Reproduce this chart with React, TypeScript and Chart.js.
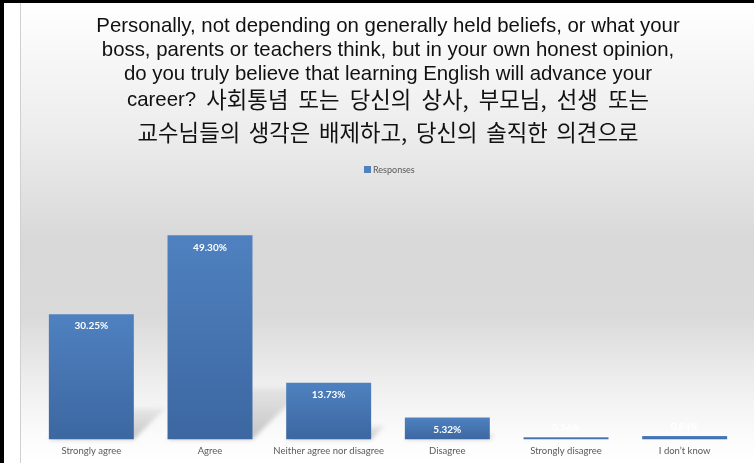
import { useEffect, useRef } from "react";
import { Chart, registerables } from "chart.js";

Chart.register(...registerables);

const categories = [
  "Strongly agree",
  "Agree",
  "Neither agree nor disagree",
  "Disagree",
  "Strongly disagree",
  "I don’t know",
];
const responses = [30.25, 49.3, 13.73, 5.32, 0.56, 0.84];
const valueLabels = ["30.25%", "49.30%", "13.73%", "5.32%", "0.56%", "0.84%"];
const seriesName = "Responses";
const titleLines = [
  "Personally, not depending on generally held beliefs, or what your",
  "boss, parents or teachers think, but in your own honest opinion,",
  "do you truly believe that learning English will advance your",
  "career? 사회통념 또는 당신의 상사, 부모님, 선생 또는",
  "교수님들의 생각은 배제하고, 당신의 솔직한 의견으로",
];
const titleY = [26, 50, 74, 100, 133];
const titleExtraSpace = [0, 0, 0, 4.5, 3];

const W = 754;
const H = 463;

const LATIN_FONT = '20.4px "Liberation Sans", Arial, sans-serif';
const CJK_FONT = '22.3px "Noto Sans CJK KR", sans-serif';

function isCjkChar(ch: string) {
  const code = ch.codePointAt(0) || 0;
  return (
    (code >= 0x1100 && code < 0x1200) ||
    (code >= 0x3130 && code < 0x3190) ||
    (code >= 0xac00 && code < 0xd7b0)
  );
}

function splitRuns(text: string): { t: string; cjk: boolean }[] {
  const runs: { t: string; cjk: boolean }[] = [];
  for (const ch of text) {
    const cjk = isCjkChar(ch);
    const last = runs[runs.length - 1];
    const neutral = ch === " " || ch === ",";
    if (last && (last.cjk === cjk || neutral)) last.t += ch;
    else runs.push({ t: ch, cjk });
  }
  return runs;
}

function drawMixed(ctx: CanvasRenderingContext2D, text: string, cx: number, y: number, extra: number) {
  const words = text.split(" ");
  const items: { t: string; cjk: boolean; w: number; gapAfter: number }[] = [];
  words.forEach((word, wi) => {
    const runs = splitRuns(word);
    runs.forEach((r, ri) => {
      ctx.font = r.cjk ? CJK_FONT : LATIN_FONT;
      const w = ctx.measureText(r.t).width;
      let gap = 0;
      if (ri === runs.length - 1 && wi < words.length - 1) {
        ctx.font = LATIN_FONT;
        gap = ctx.measureText(" ").width + extra;
      }
      items.push({ t: r.t, cjk: r.cjk, w, gapAfter: gap });
    });
  });
  const total = items.reduce((s, it) => s + it.w + it.gapAfter, 0);
  let x = cx - total / 2;
  ctx.textAlign = "left";
  items.forEach((it) => {
    ctx.font = it.cjk ? CJK_FONT : LATIN_FONT;
    ctx.fillText(it.t, x, y);
    x += it.w + it.gapAfter;
  });
}

const backgroundPlugin = {
  id: "bgFrame",
  beforeDraw(chart: any) {
    const ctx = chart.ctx as CanvasRenderingContext2D;
    ctx.save();
    ctx.fillStyle = "#ffffff";
    ctx.fillRect(0, 0, W, H);
    const g = ctx.createLinearGradient(0, 3, 0, H);
    g.addColorStop(0, "#ffffff");
    g.addColorStop(0.3, "#ebebeb");
    g.addColorStop(0.52, "#d8d8d8");
    g.addColorStop(0.68, "#dadada");
    g.addColorStop(0.84, "#f0f0f0");
    g.addColorStop(0.94, "#fbfbfb");
    g.addColorStop(1, "#ffffff");
    ctx.fillStyle = g;
    ctx.fillRect(21, 3, W - 21, H - 3);
    ctx.strokeStyle = "#d0d0d0";
    ctx.lineWidth = 1;
    ctx.beginPath();
    ctx.moveTo(20.5, 3);
    ctx.lineTo(20.5, H);
    ctx.stroke();
    ctx.fillStyle = "#000000";
    ctx.fillRect(0, 0, W, 3);
    ctx.fillRect(0, 0, 4, H);

    // title
    ctx.fillStyle = "#111111";
    ctx.textBaseline = "middle";
    titleLines.forEach((line, i) => {
      drawMixed(ctx, line, 388, titleY[i], titleExtraSpace[i]);
    });

    // legend
    ctx.fillStyle = "#4f81bd";
    ctx.fillRect(364, 166, 7, 7);
    ctx.fillStyle = "#595959";
    ctx.textAlign = "left";
    ctx.font = '9px Lato, "Open Sans", sans-serif';
    ctx.fillText(seriesName, 373, 170);
    ctx.restore();
  },
};

const shadowPlugin = {
  id: "barShadow",
  beforeDatasetsDraw(chart: any) {
    const ctx = chart.ctx as CanvasRenderingContext2D;
    const meta = chart.getDatasetMeta(0);
    ctx.save();
    ctx.filter = "blur(2px)";
    meta.data.forEach((bar: any) => {
      const left = bar.x - bar.width / 2;
      const right = bar.x + bar.width / 2;
      const h = bar.base - bar.y;
      const d = 0.25 * h;
      if (d < 2) return;
      const g = ctx.createLinearGradient(0, bar.base, 0, bar.base - d);
      g.addColorStop(0, "rgba(0,0,0,0.22)");
      g.addColorStop(1, "rgba(0,0,0,0.05)");
      ctx.fillStyle = g;
      ctx.beginPath();
      ctx.moveTo(left, bar.base);
      ctx.lineTo(right, bar.base);
      ctx.lineTo(right + d, bar.base - d);
      ctx.lineTo(left + d, bar.base - d);
      ctx.closePath();
      ctx.fill();
    });
    ctx.restore();
  },
};

const labelPlugin = {
  id: "valueLabels",
  afterDatasetsDraw(chart: any) {
    const ctx = chart.ctx as CanvasRenderingContext2D;
    const meta = chart.getDatasetMeta(0);
    ctx.save();
    ctx.fillStyle = "#ffffff";
    ctx.textAlign = "center";
    ctx.textBaseline = "middle";
    ctx.font = 'bold 10px Lato, "Open Sans", sans-serif';
    meta.data.forEach((bar: any, i: number) => {
      const h = bar.base - bar.y;
      const y = h > 20 ? bar.y + 12 : bar.y - 9;
      ctx.fillText(valueLabels[i], bar.x, y);
    });
    ctx.restore();
  },
};

export default function App() {
  const ref = useRef<HTMLCanvasElement | null>(null);

  useEffect(() => {
    if (!ref.current) return;
    const chart = new Chart(ref.current, {
      type: "bar",
      data: {
        labels: categories,
        datasets: [
          {
            label: seriesName,
            data: responses,
            backgroundColor: (c: any) => {
              const chart = c.chart;
              const ys = chart.scales?.y;
              if (!ys || c.raw === undefined) return "#4a78b4";
              const top = ys.getPixelForValue(c.raw);
              const base = ys.getPixelForValue(0);
              if (!isFinite(top) || !isFinite(base) || base - top < 1) return "#4a78b4";
              const g = chart.ctx.createLinearGradient(0, top, 0, base);
              g.addColorStop(0, "#4f81c0");
              g.addColorStop(1, "#3c67a1");
              return g;
            },
            borderWidth: 0,
            barPercentage: 0.716,
            categoryPercentage: 1,
          },
        ],
      },
      options: {
        responsive: false,
        animation: false,
        devicePixelRatio: 1,
        layout: { padding: { left: 32, right: 10, top: 191, bottom: 0 } },
        plugins: {
          legend: { display: false },
          title: { display: false },
          tooltip: { enabled: false },
        },
        scales: {
          x: {
            grid: { display: false, drawTicks: false },
            border: { display: false },
            ticks: {
              color: "#595959",
              font: { family: 'Lato, "Open Sans", sans-serif', size: 9.5 },
              padding: 6,
              maxRotation: 0,
              autoSkip: false,
            },
          },
          y: {
            display: false,
            min: 0,
            max: 60,
          },
        },
      },
      plugins: [backgroundPlugin, shadowPlugin, labelPlugin],
    });
    return () => chart.destroy();
  }, []);

  return (
    <div style={{ position: "absolute", left: 0, top: 0, width: W, height: H }}>
      <canvas ref={ref} width={W} height={H} style={{ display: "block", width: W, height: H }} />
    </div>
  );
}
